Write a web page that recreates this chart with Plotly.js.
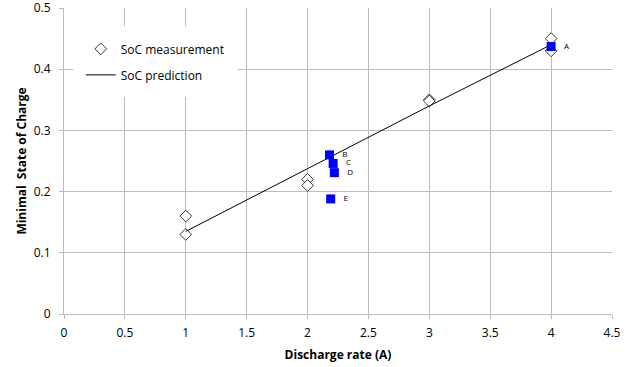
<!DOCTYPE html>
<html>
<head>
<meta charset="utf-8">
<script src="https://cdn.plot.ly/plotly-3.0.1.min.js"></script>
<style>html,body{margin:0;padding:0;background:#fff;}#chart{width:644px;height:367px;}</style>
</head>
<body>
<div id="chart"></div>
<script>
const measX = [1, 1, 2, 2, 3, 3, 4, 4];
const measY = [0.16, 0.13, 0.22, 0.21, 0.35, 0.348, 0.45, 0.43];
const predX = [1, 2, 3, 4];
const predY = [0.135, 0.238, 0.34, 0.44];
const caseLabels = ['A', 'B', 'C', 'D', 'E'];
const caseX = [4, 2.18, 2.21, 2.22, 2.19];
const caseY = [0.437, 0.26, 0.246, 0.231, 0.188];
const xTicks = [0, 0.5, 1, 1.5, 2, 2.5, 3, 3.5, 4, 4.5];
const yTicks = [0, 0.1, 0.2, 0.3, 0.4, 0.5];

const font = 'Open Sans, Liberation Sans, sans-serif';
const traces = [
  {x: measX, y: measY, mode: 'markers', type: 'scatter', name: 'SoC measurement',
   legendgroup: 'a',
   marker: {symbol: 'diamond', size: 9, color: '#ffffff', line: {color: '#333333', width: 1}}},
  {x: predX, y: predY, mode: 'lines', type: 'scatter', name: 'SoC prediction',
   legendgroup: 'b',
   line: {color: '#000000', width: 1}},
  {x: caseX, y: caseY, mode: 'markers+text', type: 'scatter', showlegend: false,
   text: caseLabels.map(function (s) { return '   ' + s; }), textposition: 'middle right',
   textfont: {size: 8, color: '#000', family: font},
   marker: {symbol: 'square', size: 9, color: '#0000ff'}}
];
const layout = {
  width: 644, height: 367,
  margin: {l: 64, r: 32, t: 8, b: 53},
  paper_bgcolor: '#fff', plot_bgcolor: '#fff',
  font: {family: font, size: 12, color: '#000'},
  xaxis: {range: [0, 4.5], tickvals: xTicks, ticktext: xTicks.map(String),
    showgrid: true, gridcolor: '#bdbdbd', zeroline: false,
    showline: true, linecolor: '#bdbdbd', ticks: 'outside', ticklen: 4, tickcolor: '#bdbdbd',
    ticklabelstandoff: 4, ticklabeloverflow: 'allow',
    title: {text: '<b>Discharge rate (A)</b>', font: {size: 12, family: font}, standoff: 10}},
  yaxis: {range: [0, 0.5], tickvals: yTicks, ticktext: yTicks.map(String),
    showgrid: true, gridcolor: '#bdbdbd', zeroline: false,
    showline: true, linecolor: '#bdbdbd', ticks: 'outside', ticklen: 4, tickcolor: '#bdbdbd',
    ticklabelstandoff: 6, ticklabeloverflow: 'allow',
    title: {text: '<b>Minimal  State of Charge</b>', font: {size: 12, family: font}, standoff: 4}},
  legend: {x: 0.016, y: 0.94, xanchor: 'left', yanchor: 'top', bgcolor: '#ffffff',
    font: {size: 12, family: font}, tracegroupgap: 7, traceorder: 'grouped',
    borderwidth: 8, bordercolor: '#ffffff'},
  showlegend: true
};
Plotly.newPlot('chart', traces, layout, {displayModeBar: false, staticPlot: true});
</script>
</body>
</html>
